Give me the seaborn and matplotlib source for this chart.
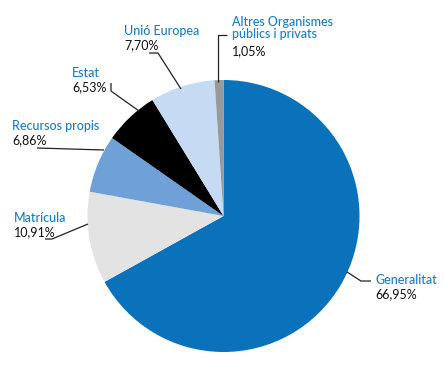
import matplotlib
matplotlib.use("Agg")
import matplotlib.pyplot as plt
import seaborn as sns

categories = ["Generalitat", "Matrícula", "Recursos propis", "Estat", "Unió Europea",
              "Altres Organismes\npúblics i privats"]
values = [66.95, 10.91, 6.86, 6.53, 7.70, 1.05]
value_labels = ["66,95%", "10,91%", "6,86%", "6,53%", "7,70%", "1,05%"]
colors = ["#0a71bb", "#e3e3e3", "#6fa0d8", "#000000", "#c6daf3", "#999999"]

sns.set_theme(style="white")
plt.rcParams['font.family'] = ['Lato', 'DejaVu Sans']

W, H = 444, 370
fig = plt.figure(figsize=(W / 100, H / 100), dpi=100)
ax = fig.add_axes([0, 0, 1, 1])

def py(y):
    return H - y

ax.pie(values, colors=colors, startangle=90, counterclock=False,
       center=(223.5, py(216)), radius=136, wedgeprops=dict(linewidth=0))
ax.set_xlim(0, W)
ax.set_ylim(0, H)
ax.set_aspect('auto')
ax.axis('off')

# label layout: (text x, text top y, leader polyline in pixel coords)
layout = {
    0: (375, 274, [(347, 272), (361, 281), (371, 281)]),
    1: (14, 212, [(88, 224), (52, 239), (45, 239)]),
    2: (12, 120, [(104, 150), (37, 148)]),
    3: (72, 67, [(139, 111), (111, 91), (111, 83)]),
    4: (124, 25, [(181, 89), (158, 53), (149, 53)]),
    5: (232, 16, [(218, 82), (218, 35), (227, 35)]),
}

blue = "#1b7cc3"
fs = 9
for i, (tx, ty, pts) in layout.items():
    name = categories[i]
    nlines = name.count("\n") + 1
    ax.text(tx, py(ty), name, color=blue, fontsize=fs, va='top', ha='left',
            linespacing=1.05, fontweight='medium')
    ax.text(tx, py(ty + 14.5 * nlines), value_labels[i], color="#111111", fontsize=fs,
            va='top', ha='left')
    xs = [p[0] for p in pts]
    ys = [py(p[1]) for p in pts]
    ax.plot(xs, ys, color="#222222", lw=0.9, solid_capstyle='butt')

fig.savefig("out.png", dpi=100, facecolor="white")
